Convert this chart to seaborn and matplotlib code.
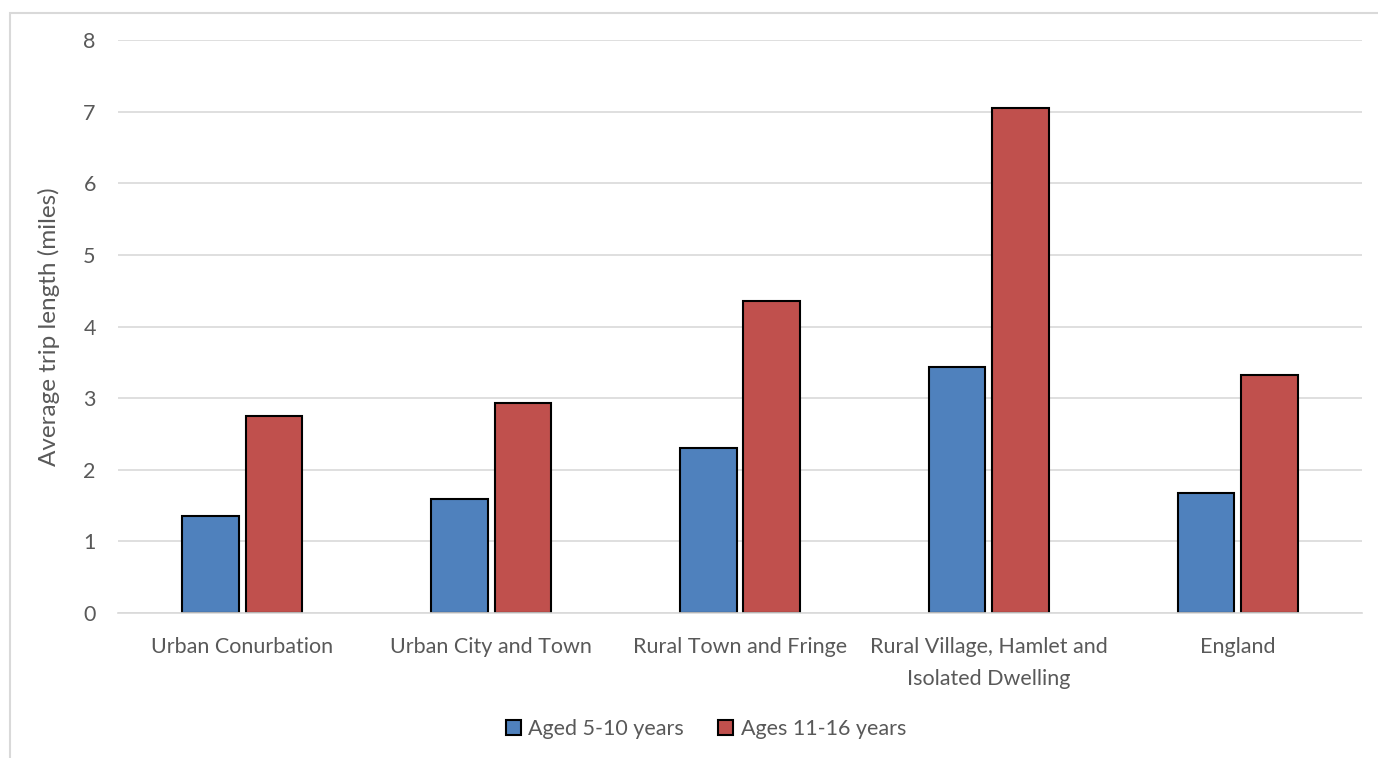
import pandas as pd
import matplotlib
matplotlib.use("Agg")
import matplotlib.pyplot as plt
import seaborn as sns
from matplotlib.patches import Rectangle

# values (miles)
areas = ["Urban Conurbation", "Urban City and Town", "Rural Town and Fringe",
         "Rural Village, Hamlet and\nIsolated Dwelling", "England"]
aged_5_10 = [1.35, 1.59, 2.30, 3.44, 1.67]
ages_11_16 = [2.75, 2.93, 4.36, 7.05, 3.32]
series_names = ["Aged 5-10 years", "Ages 11-16 years"]
y_ticks = [0, 1, 2, 3, 4, 5, 6, 7, 8]

df = pd.DataFrame({
    "area": areas * 2,
    "group": [series_names[0]] * len(areas) + [series_names[1]] * len(areas),
    "miles": aged_5_10 + ages_11_16,
})

sns.set_style("white")
plt.rcParams["font.family"] = ["Lato", "DejaVu Sans"]
txt = "#595959"
grid = "#d9d9d9"

fig = plt.figure(figsize=(13.78, 7.58), dpi=100)
ax = fig.add_axes([118/1378, 1 - 613/758, 1244/1378, 573/758])

sns.barplot(data=df, x="area", y="miles", hue="group", order=areas,
            hue_order=series_names, palette=["#4f81bd", "#c0504d"],
            width=0.51, gap=0.11, edgecolor="black", linewidth=1.5,
            saturation=1, ax=ax)

ax.set_ylim(0, 8)
ax.set_yticks(y_ticks)
ax.set_xlim(-0.5, len(areas) - 0.5)
ax.yaxis.grid(True, color=grid, linewidth=1.2)
ax.set_axisbelow(True)
for s in ["top", "right", "left"]:
    ax.spines[s].set_visible(False)
ax.spines["bottom"].set_color(grid)
ax.spines["bottom"].set_linewidth(1.2)
ax.tick_params(axis="both", length=0, labelsize=15.5, labelcolor=txt)
ax.tick_params(axis="y", pad=16)
ax.tick_params(axis="x", pad=17)
for lab in ax.get_xticklabels():
    lab.set_linespacing(1.75)

ax.set_xlabel("")
ax.set_ylabel("Average trip length (miles)", fontsize=17.5, color=txt)
ax.yaxis.set_label_coords(-0.047, 0.5)

sns.move_legend(ax, "center", bbox_to_anchor=(706/1378, 1 - 729/758),
                bbox_transform=fig.transFigure, ncol=2, frameon=False,
                title=None, fontsize=15.5, handlelength=0.7, handleheight=0.7,
                handletextpad=0.35, columnspacing=1.6)
leg = ax.get_legend()
for t in leg.get_texts():
    t.set_color(txt)
for h in leg.legend_handles:
    h.set_edgecolor("black")
    h.set_linewidth(1.5)

# light chart-area border, running off the right and bottom edges
fig.patches.append(Rectangle((10/1378, -0.1), 2, 1 - 13/758 + 0.1,
                             transform=fig.transFigure, fill=False,
                             edgecolor=grid, linewidth=1.5))

fig.savefig("out.png", dpi=100)
